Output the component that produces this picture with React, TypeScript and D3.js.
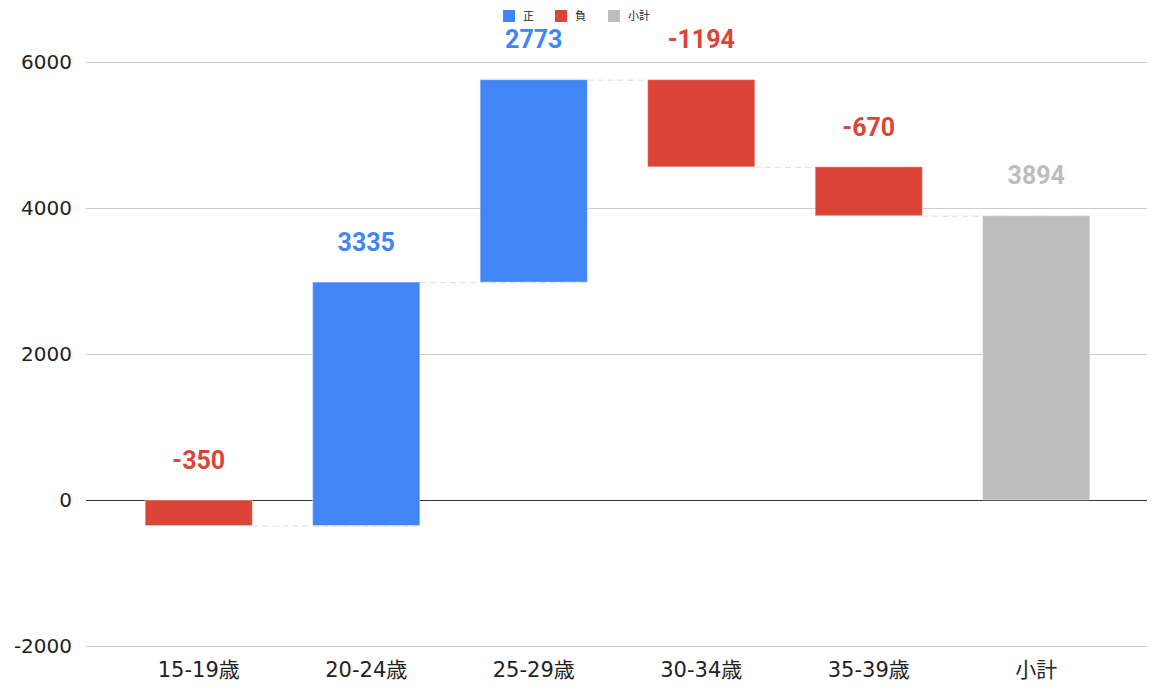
import React from "react";
import { scaleBand, scaleLinear } from "d3";

const categories = ["15-19歳", "20-24歳", "25-29歳", "30-34歳", "35-39歳", "小計"];
const changes = [-350, 3335, 2773, -1194, -670];
const subtotalLabel = "小計";
const yTicks = [-2000, 0, 2000, 4000, 6000];
const legendItems = ["正", "負", "小計"];

const BLUE = "#4285F4";
const RED = "#DB4437";
const GRAY = "#BDBDBD";

export default function App() {
  const width = 1158,
    height = 694;
  const gridLeft = 86,
    gridRight = 1147;

  const x = scaleBand<string>()
    .domain(categories)
    .range([115, 1120])
    .paddingInner(0.36)
    .paddingOuter(0.18);

  const y = scaleLinear().domain([-2000, 6000]).range([646, 62]);

  // build waterfall steps
  let running = 0;
  const steps = changes.map((v, i) => {
    const start = running;
    running += v;
    return { cat: categories[i], start, end: running, value: v, color: v >= 0 ? BLUE : RED };
  });
  const total = running;
  const bars = [
    ...steps,
    { cat: subtotalLabel, start: 0, end: total, value: total, color: GRAY },
  ];

  const legendColors = [BLUE, RED, GRAY];
  const legendX = [503, 555, 608];

  return (
    <svg
      width={width}
      height={height}
      style={{ position: "absolute", left: 0, top: 0, background: "#fff" }}
    >
      {yTicks.map(t => (
        <g key={t}>
          <line
            x1={gridLeft}
            x2={gridRight}
            y1={Math.round(y(t)) + 0.5}
            y2={Math.round(y(t)) + 0.5}
            stroke={t === 0 ? "#333" : "#ccc"}
            strokeWidth={1}
          />
          <text
            x={72}
            y={y(t)}
            dy="0.35em"
            textAnchor="end"
            style={{ fontFamily: "DejaVu Sans, sans-serif", fontSize: 20, fill: "#222" }}
          >
            {t}
          </text>
        </g>
      ))}

      {bars.slice(0, -1).map((b, i) => {
        const next = bars[i + 1];
        return (
          <line
            key={"c" + i}
            x1={x(b.cat)! + x.bandwidth()}
            x2={x(next.cat)! + x.bandwidth()}
            y1={y(b.end) + 0.5}
            y2={y(b.end) + 0.5}
            stroke="#ddd"
            strokeWidth={1}
            strokeDasharray="6,4"
          />
        );
      })}

      {bars.map(b => {
        const top = y(Math.max(b.start, b.end));
        const bottom = y(Math.min(b.start, b.end));
        return (
          <g key={b.cat}>
            <rect
              x={x(b.cat)}
              y={top}
              width={x.bandwidth()}
              height={bottom - top}
              fill={b.color}
              stroke="rgba(255,255,255,0.4)"
              strokeWidth={1}
            />
            <text
              x={x(b.cat)! + x.bandwidth() / 2}
              y={top - 40}
              dy="0.35em"
              textAnchor="middle"
              style={{
                fontFamily: "Roboto, sans-serif",
                fontWeight: 700,
                fontSize: 25,
                fill: b.color,
              }}
            >
              {b.value}
            </text>
          </g>
        );
      })}

      {categories.map(c => (
        <text
          key={c}
          x={x(c)! + x.bandwidth() / 2}
          y={670}
          dy="0.35em"
          textAnchor="middle"
          style={{ fontFamily: "DejaVu Sans, Noto Sans CJK JP, sans-serif", fontSize: 21, fill: "#222" }}
        >
          {c}
        </text>
      ))}

      {legendItems.map((l, i) => (
        <g key={l}>
          <rect x={legendX[i]} y={10} width={12} height={12} fill={legendColors[i]} />
          <text
            x={legendX[i] + 20}
            y={16}
            dy="0.35em"
            style={{ fontFamily: "Noto Sans CJK JP, sans-serif", fontSize: 11, fill: "#222" }}
          >
            {l}
          </text>
        </g>
      ))}
    </svg>
  );
}
